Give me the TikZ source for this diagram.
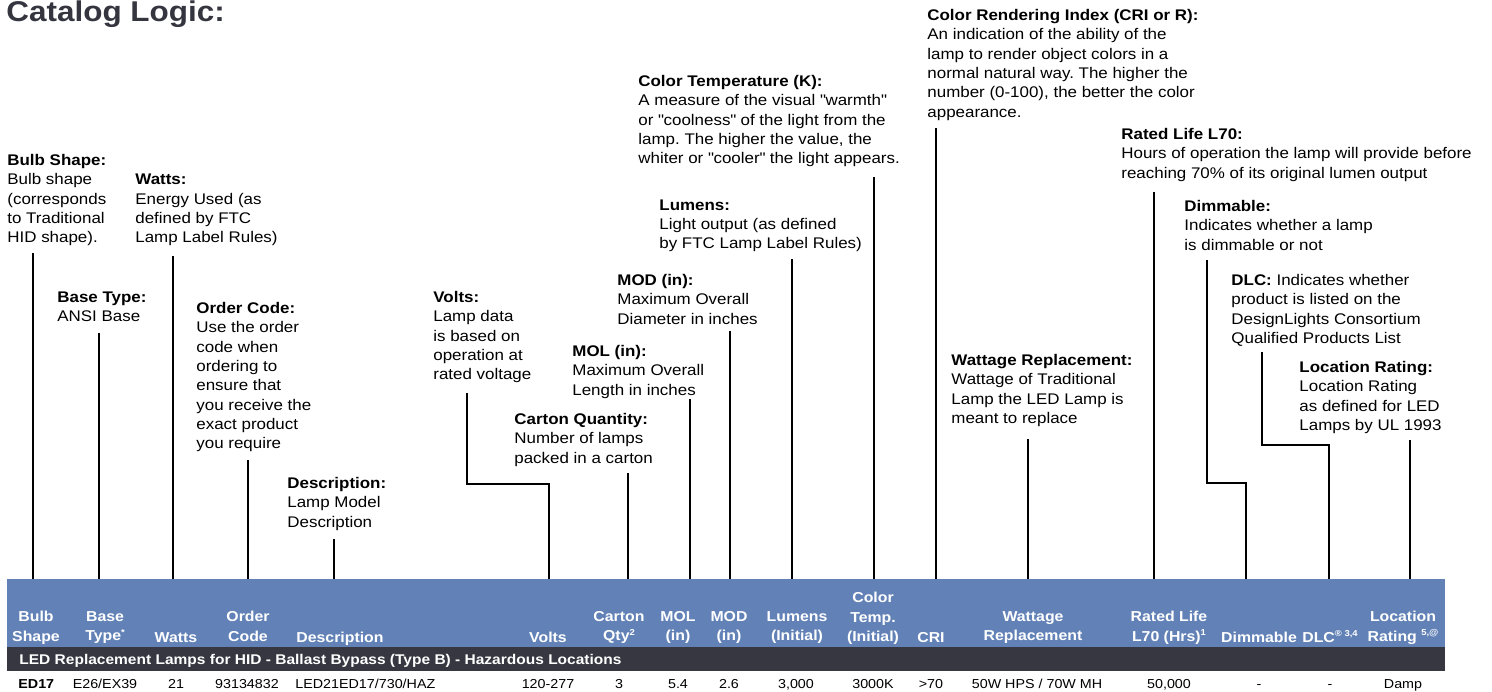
\documentclass[tikz,border=0pt]{standalone}
\usepackage{fontspec}
\setmainfont{Liberation Sans}[FakeStretch=1.1]
\frenchspacing
\definecolor{barblue}{HTML}{6282B7}
\definecolor{bardark}{HTML}{363741}
\definecolor{titlegray}{HTML}{34353F}
\newcommand{\tinysup}[1]{\raisebox{0.75ex}{\fontsize{4.3}{5}\selectfont #1}}
\newcommand{\dq}{\textquotedbl}
\begin{document}
\begin{tikzpicture}[x=0.5pt,y=-0.5pt,
  lbl/.style={anchor=north west, inner sep=0pt, align=left, font=\fontsize{7.7}{9.65}\selectfont},
  conn/.style={line width=1.45pt},
  hdr/.style={inner sep=0pt, align=center, text=white, font=\fontsize{7.2}{9.75}\selectfont\bfseries},
  hdrone/.style={hdr, anchor=base},
  hdrtwo/.style={hdr, anchor=north},
  dat/.style={anchor=base, inner sep=0pt, font=\fontsize{6.5}{8}\selectfont}]
\useasboundingbox (0,0) rectangle (1492,691);

% title
\node[anchor=base west, inner sep=0pt, text=titlegray, font=\fontsize{14.3}{16}\selectfont\bfseries] (title) at (6,21) {Catalog Logic:};

% bars
\node[fill=barblue, inner sep=0pt, minimum width=719pt, minimum height=34pt, anchor=north west] (bar) at (7,579) {};
\node[fill=bardark, inner sep=0pt, minimum width=719pt, minimum height=12pt, anchor=north west] (dark) at (7,647) {};

% labels
\node[lbl] (bulb) at (7,154) {\textbf{Bulb Shape:}\\Bulb shape\\(corresponds\\to Traditional\\HID shape).};
\node[lbl] (watts) at (135,174) {\textbf{Watts:}\\Energy Used (as\\defined by FTC\\Lamp Label Rules)};
\node[lbl] (base) at (57,291) {\textbf{Base Type:}\\ANSI Base};
\node[lbl] (order) at (196,302) {\textbf{Order Code:}\\Use the order\\code when\\ordering to\\ensure that\\you receive the\\exact product\\you require};
\node[lbl] (desc) at (287,477) {\textbf{Description:}\\Lamp Model\\Description};
\node[lbl] (volts) at (433,291) {\textbf{Volts:}\\Lamp data\\is based on\\operation at\\rated voltage};
\node[lbl] (carton) at (514,413) {\textbf{Carton Quantity:}\\Number of lamps\\packed in a carton};
\node[lbl] (mol) at (572,345) {\textbf{MOL (in):}\\Maximum Overall\\Length in inches};
\node[lbl] (mod) at (617,274) {\textbf{MOD (in):}\\Maximum Overall\\Diameter in inches};
\node[lbl] (lumens) at (659,199) {\textbf{Lumens:}\\Light output (as defined\\by FTC Lamp Label Rules)};
\node[lbl] (ctemp) at (638,75) {\textbf{Color Temperature (K):}\\A measure of the visual \dq warmth\dq\\or \dq coolness\dq\ of the light from the\\lamp. The higher the value, the\\whiter or \dq cooler\dq\ the light appears.};
\node[lbl] (cri) at (927,9) {\textbf{Color Rendering Index (CRI or R):}\\An indication of the ability of the\\lamp to render object colors in a\\normal natural way. The higher the\\number (0-100), the better the color\\appearance.};
\node[lbl] (wrep) at (951,354) {\textbf{Wattage Replacement:}\\Wattage of Traditional\\Lamp the LED Lamp is\\meant to replace};
\node[lbl] (rated) at (1121,128) {\textbf{Rated Life L70:}\\Hours of operation the lamp will provide before\\reaching 70\% of its original lumen output};
\node[lbl] (dimm) at (1184,200) {\textbf{Dimmable:}\\Indicates whether a lamp\\is dimmable or not};
\node[lbl] (dlc) at (1231,274) {\textbf{DLC:} Indicates whether\\product is listed on the\\DesignLights Consortium\\Qualified Products List};
\node[lbl] (loc) at (1299,361) {\textbf{Location Rating:}\\Location Rating\\as defined for LED\\Lamps by UL 1993};

% connector start points and bends
\coordinate (bulbS) at (33,253);
\coordinate (baseS) at (99,333);
\coordinate (wattsS) at (173,256);
\coordinate (orderS) at (248,460);
\coordinate (descS) at (334,539);
\coordinate (voltsS) at (467,393);
\coordinate (voltsK) at (549,484);
\coordinate (cartonS) at (628,473);
\coordinate (molS) at (690,399);
\coordinate (modS) at (730,331);
\coordinate (lumensS) at (792,259);
\coordinate (ctempS) at (874,177);
\coordinate (criS) at (936,128);
\coordinate (wrepS) at (1028,439);
\coordinate (ratedS) at (1154,192);
\coordinate (dimmS) at (1207,260);
\coordinate (dimmK) at (1246,483);
\coordinate (dlcS) at (1262,352);
\coordinate (dlcK) at (1329,445);
\coordinate (locS) at (1410,440);

\draw[conn] (bulbS) -- (bulbS |- bar.north);
\draw[conn] (baseS) -- (baseS |- bar.north);
\draw[conn] (wattsS) -- (wattsS |- bar.north);
\draw[conn] (orderS) -- (orderS |- bar.north);
\draw[conn] (descS) -- (descS |- bar.north);
\draw[conn] (voltsS) |- (voltsK) -- (voltsK |- bar.north);
\draw[conn] (cartonS) -- (cartonS |- bar.north);
\draw[conn] (molS) -- (molS |- bar.north);
\draw[conn] (modS) -- (modS |- bar.north);
\draw[conn] (lumensS) -- (lumensS |- bar.north);
\draw[conn] (ctempS) -- (ctempS |- bar.north);
\draw[conn] (criS) -- (criS |- bar.north);
\draw[conn] (wrepS) -- (wrepS |- bar.north);
\draw[conn] (ratedS) -- (ratedS |- bar.north);
\draw[conn] (dimmS) |- (dimmK) -- (dimmK |- bar.north);
\draw[conn] (dlcS) |- (dlcK) -- (dlcK |- bar.north);
\draw[conn] (locS) -- (locS |- bar.north);

% header texts
\node[hdrtwo] (h1) at (36,611) {Bulb\\Shape};
\node[hdrtwo] (h2) at (105,611) {Base\\Type\tinysup{*}};
\node[hdrone] (h3) at (176,642) {Watts};
\node[hdrtwo] (h4) at (248,611) {Order\\Code};
\node[hdrone, anchor=base west] (h5) at (296,642) {Description};
\node[hdrone] (h6) at (548,642) {Volts};
\node[hdrtwo] (h7) at (619,611) {Carton\\Qty\tinysup{2}};
\node[hdrtwo] (h8) at (678,611) {MOL\\(in)};
\node[hdrtwo] (h9) at (729,611) {MOD\\(in)};
\node[hdrtwo] (h10) at (797,611) {Lumens\\(Initial)};
\node[hdrtwo] (h11) at (873,592) {Color\\Temp.\\(Initial)};
\node[hdrone] (h12) at (931,642) {CRI};
\node[hdrtwo] (h13) at (1033,611) {Wattage\\Replacement};
\node[hdrtwo] (h14) at (1169,611) {Rated Life\\L70 (Hrs)\tinysup{1}};
\node[hdrone] (h15) at (1259,642) {Dimmable};
\node[hdrone] (h16) at (1330,642) {DLC\tinysup{\textregistered\ 3,4}};
\node[hdrtwo] (h17) at (1403,611) {Location\\Rating \tinysup{5,@}};

% section title
\node[anchor=base west, inner sep=0pt, text=white, font=\fontsize{7.05}{9}\selectfont\bfseries] (sect) at (19,664) {LED Replacement Lamps for HID - Ballast Bypass (Type B) - Hazardous Locations};

% data row
\node[dat, anchor=base west, font=\fontsize{6.5}{8}\selectfont\bfseries] (d1) at (18,688) {ED17};
\node[dat] (d2) at (105,688) {E26/EX39};
\node[dat] (d3) at (176,688) {21};
\node[dat] (d4) at (247,688) {93134832};
\node[dat, anchor=base west] (d5) at (295,688) {LED21ED17/730/HAZ};
\node[dat] (d6) at (548,688) {120-277};
\node[dat] (d7) at (619,688) {3};
\node[dat] (d8) at (678,688) {5.4};
\node[dat] (d9) at (729,688) {2.6};
\node[dat] (d10) at (796,688) {3,000};
\node[dat] (d11) at (873,688) {3000K};
\node[dat] (d12) at (931,688) {>70};
\node[dat] (d13) at (1037,688) {50W HPS / 70W MH};
\node[dat] (d14) at (1169,688) {50,000};
\node[dat] (d15) at (1259,688) {-};
\node[dat] (d16) at (1330,688) {-};
\node[dat] (d17) at (1403,688) {Damp};
\end{tikzpicture}
\end{document}
